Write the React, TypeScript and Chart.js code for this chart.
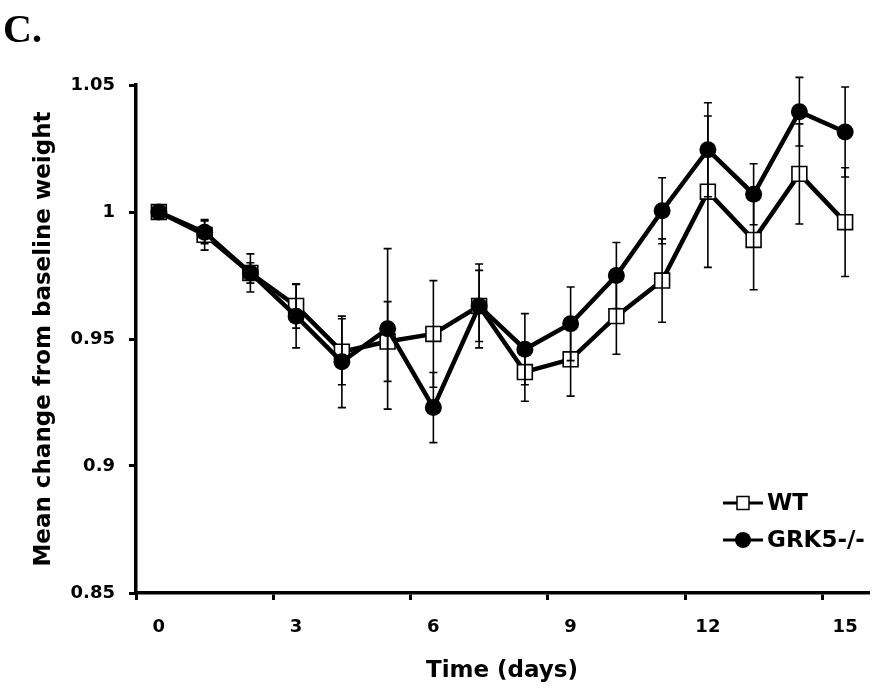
import React, { useEffect, useRef } from "react";
import { Chart, registerables } from "chart.js";

Chart.register(...registerables);

const days = ["0", "1", "2", "3", "4", "5", "6", "7", "8", "9", "10", "11", "12", "13", "14", "15"];
const wtMean = [1.0, 0.991, 0.976, 0.963, 0.945, 0.949, 0.952, 0.963, 0.937, 0.942, 0.959, 0.973, 1.008, 0.989, 1.015, 0.996];
const wtErr = [0, 0.006, 0.004, 0.0087, 0.013, 0.0157, 0.021, 0.0165, 0.0115, 0.0145, 0.015, 0.0164, 0.0298, 0.0196, 0.0197, 0.0214];
const grkMean = [1.0, 0.992, 0.976, 0.959, 0.941, 0.954, 0.923, 0.963, 0.946, 0.956, 0.975, 1.0005, 1.0245, 1.007, 1.0395, 1.0315];
const grkErr = [0, 0.0045, 0.0075, 0.0125, 0.018, 0.0316, 0.0138, 0.014, 0.014, 0.0145, 0.013, 0.013, 0.0185, 0.012, 0.0135, 0.0177];
const yTicks = [0.85, 0.9, 0.95, 1.0, 1.05];
const seriesNames = ["WT", "GRK5-/-"];
const panelLabel = "C.";
const xTitle = "Time (days)";
const yTitle = "Mean change from baseline weight";

const FONT = "'DejaVu Sans', sans-serif";

const errorBarPlugin = {
  id: "errorBars",
  afterDatasetsDraw(chart: any) {
    const ctx = chart.ctx;
    const yScale = chart.scales.y;
    const errs = [wtErr, grkErr];
    const means = [wtMean, grkMean];
    ctx.save();
    ctx.strokeStyle = "#000";
    ctx.lineWidth = 1.6;
    for (let d = 0; d < 2; d++) {
      const meta = chart.getDatasetMeta(d);
      meta.data.forEach((pt: any, i: number) => {
        const e = errs[d][i];
        if (!e) return;
        const x = pt.x;
        const yTop = yScale.getPixelForValue(means[d][i] + e);
        const yBot = yScale.getPixelForValue(means[d][i] - e);
        ctx.beginPath();
        ctx.moveTo(x, yTop);
        ctx.lineTo(x, yBot);
        ctx.moveTo(x - 4, yTop);
        ctx.lineTo(x + 4, yTop);
        ctx.moveTo(x - 4, yBot);
        ctx.lineTo(x + 4, yBot);
        ctx.stroke();
      });
    }
    ctx.restore();
  },
};

const decorPlugin = {
  id: "decor",
  afterDraw(chart: any) {
    const ctx = chart.ctx;
    ctx.save();
    ctx.fillStyle = "#000";
    ctx.font = "bold 40px 'Liberation Serif', serif";
    ctx.textAlign = "left";
    ctx.textBaseline = "alphabetic";
    ctx.fillText(panelLabel, 3, 42);
    const rows = [
      { y: 503, name: seriesNames[0], style: "rect" },
      { y: 540, name: seriesNames[1], style: "circle" },
    ];
    rows.forEach((r) => {
      ctx.strokeStyle = "#000";
      ctx.lineWidth = 3;
      ctx.beginPath();
      ctx.moveTo(723, r.y);
      ctx.lineTo(763, r.y);
      ctx.stroke();
      if (r.style === "rect") {
        ctx.fillStyle = "#fff";
        ctx.fillRect(737, r.y - 6.5, 12, 13);
        ctx.lineWidth = 1.5;
        ctx.strokeRect(737, r.y - 6.5, 12, 13);
      } else {
        ctx.fillStyle = "#000";
        ctx.beginPath();
        ctx.arc(743, r.y, 8, 0, Math.PI * 2);
        ctx.fill();
      }
      ctx.fillStyle = "#000";
      ctx.font = `bold 23px ${FONT}`;
      ctx.textBaseline = "middle";
      ctx.fillText(r.name, 767, r.y + 1);
    });
    ctx.restore();
  },
};

export default function App() {
  const ref = useRef<HTMLCanvasElement | null>(null);
  useEffect(() => {
    document.body.style.margin = "0";
    const canvas = ref.current!;
    const chart = new Chart(canvas, {
      type: "line",
      data: {
        labels: days,
        datasets: [
          {
            label: seriesNames[0],
            data: wtMean,
            borderColor: "#000",
            borderWidth: 4.5,
            pointStyle: "rect",
            pointRadius: 10.5,
            pointBackgroundColor: "#fff",
            pointBorderColor: "#000",
            pointBorderWidth: 1.6,
            tension: 0,
            order: 2,
          },
          {
            label: seriesNames[1],
            data: grkMean,
            borderColor: "#000",
            borderWidth: 4.5,
            pointStyle: "circle",
            pointRadius: 8.5,
            pointBackgroundColor: "#000",
            pointBorderColor: "#000",
            pointBorderWidth: 0,
            tension: 0,
            order: 1,
          },
        ],
      },
      options: {
        responsive: false,
        animation: false,
        devicePixelRatio: 1,
        layout: { padding: { left: 0, right: 28, top: 85, bottom: 0 } },
        plugins: {
          legend: { display: false },
          tooltip: { enabled: false },
          title: { display: false },
        },
        scales: {
          x: {
            type: "category",
            offset: true,
            afterFit: (s: any) => {
              s.height = 106;
            },
            grid: {
              offset: true,
              drawOnChartArea: false,
              drawTicks: true,
              tickLength: 7,
              lineWidth: 3,
              tickColor: (c: any) =>
                typeof c.index === "number" && c.index % 3 === 0 ? "#000" : "rgba(0,0,0,0)",
            },
            border: { display: true, color: "#000", width: 3.5 },
            ticks: {
              autoSkip: false,
              maxRotation: 0,
              padding: 17,
              color: "#000",
              font: { family: FONT, size: 18, weight: "bold" },
              callback: (_v: any, i: number) => (i % 3 === 0 ? days[i] : ""),
            },
            title: {
              display: true,
              text: xTitle,
              color: "#000",
              font: { family: FONT, size: 23, weight: "bold" },
              padding: { top: 0, bottom: 14 },
            },
          },
          y: {
            min: yTicks[0],
            max: yTicks[yTicks.length - 1],
            afterFit: (s: any) => {
              s.width = 136;
            },
            afterBuildTicks: (s: any) => {
              s.ticks = yTicks.map((v) => ({ value: v }));
            },
            grid: {
              drawOnChartArea: false,
              drawTicks: true,
              tickLength: 7,
              lineWidth: 3,
              tickColor: "#000",
            },
            border: { display: true, color: "#000", width: 3.5 },
            ticks: {
              padding: 14,
              color: "#000",
              font: { family: FONT, size: 18, weight: "bold" },
              callback: (v: any) => String(parseFloat(Number(v).toFixed(2))),
            },
            title: {
              display: true,
              text: yTitle,
              color: "#000",
              font: { family: FONT, size: 23, weight: "bold" },
              padding: { top: 30, bottom: 0 },
            },
          },
        },
      },
      plugins: [errorBarPlugin, decorPlugin],
    } as any);
    return () => chart.destroy();
  }, []);
  return (
    <div style={{ width: 896, height: 699, background: "#fff" }}>
      <canvas ref={ref} width={896} height={699} style={{ width: 896, height: 699, display: "block" }} />
    </div>
  );
}
